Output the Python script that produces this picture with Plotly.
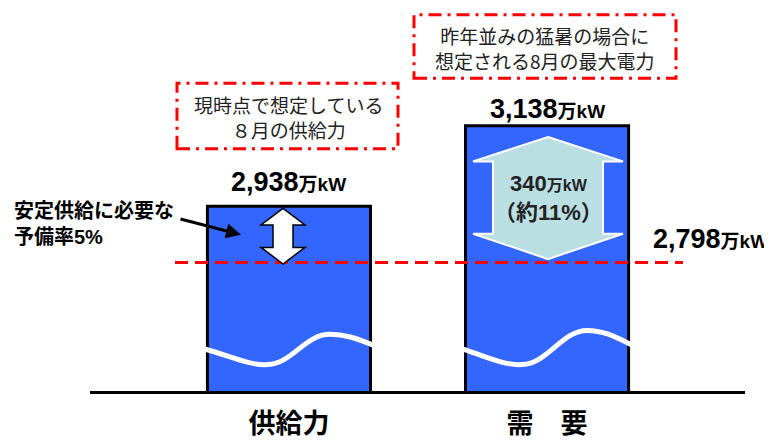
import plotly.graph_objects as go

# ---- data ----
categories = ["供給力", "需　要"]
values = [2938, 3138]            # 万kW
reserve_line = 2798               # 万kW
value_units = "万kW"
box_supply = ["現時点で想定している", "８月の供給力"]
box_demand = ["昨年並みの猛暑の場合に", "想定される8月の最大電力"]
reserve_note = ["安定供給に必要な", "予備率5%"]

# page has an 8px body margin; figure is sized to fill the rest of the window
OFF = 8
W, H = 772 - OFF, 441 - OFF
ML, MR, MT, MB = 90 - OFF, 27, 0, 41
PW, PH = W - ML - MR, H - MT - MB
FONT = "Liberation Sans, Arial, Noto Sans CJK JP"
BLUE = "#3366FF"
RED = "#FF0000"


def px(x):   # page pixel -> paper
    return (x - OFF - ML) / PW


def py(y):
    return (H - MB - (y - OFF)) / PH


def path(points, close=True):
    s = "M " + " L ".join(f"{px(a):.5f},{py(b):.5f}" for a, b in points)
    return s + (" Z" if close else "")


def curve(segs):
    out = []
    for cmd, pts in segs:
        out.append(cmd + " " + " ".join(f"{px(a):.5f},{py(b):.5f}" for a, b in pts))
    return " ".join(out)


fig = go.Figure()
fig.add_trace(go.Bar(
    x=categories, y=values, width=0.632,
    marker=dict(color=BLUE, line=dict(color="black", width=3)),
    hoverinfo="skip",
))

shapes = []
shapes.append(dict(type="line", xref="paper", yref="y", x0=px(175), x1=px(683),
                   y0=reserve_line, y1=reserve_line,
                   line=dict(color=RED, width=3, dash="13px,7px")))
for (x0, y0, x1, y1) in [(177, 85, 398, 152), (414, 15, 676, 80)]:
    shapes.append(dict(type="rect", xref="paper", yref="paper",
                       x0=px(x0), x1=px(x1), y0=py(y1), y1=py(y0),
                       line=dict(color=RED, width=3, dash="13px,6px,3px,6px")))
waves = [
    [("M", [(205, 357)]), ("C", [(235, 366), (250, 374), (268, 373)]),
     ("C", [(292, 372), (305, 342), (330, 342)]), ("C", [(348, 342), (360, 348), (373, 353)])],
    [("M", [(462, 357)]), ("C", [(490, 366), (505, 374), (522, 373)]),
     ("C", [(548, 372), (562, 338), (587, 338)]), ("C", [(605, 338), (618, 346), (632, 353)])],
]
for wv in waves:
    shapes.append(dict(type="path", xref="paper", yref="paper", path=curve(wv),
                       line=dict(color="white", width=5)))
cx = 283
small = [(cx, 213), (cx + 22, 230), (cx + 10, 230), (cx + 10, 253), (cx + 22, 253),
         (cx, 270), (cx - 22, 253), (cx - 10, 253), (cx - 10, 230), (cx - 22, 230)]
shapes.append(dict(type="path", xref="paper", yref="paper", path=path(small),
                   fillcolor="white", line=dict(color="black", width=1.5)))
bx = 548
big = [(bx, 140), (bx + 75, 165), (bx + 55, 165), (bx + 55, 239), (bx + 75, 239),
       (bx, 265), (bx - 75, 239), (bx - 55, 239), (bx - 55, 165), (bx - 75, 165)]
shapes.append(dict(type="path", xref="paper", yref="paper", path=path(big),
                   fillcolor="#BADFE2", line=dict(color="white", width=2)))

annotations = []


def val_text(v, small=19):
    return f"<b>{v:,}<span style='font-size:{small}px'>{value_units}</span></b>"


shifts = [24, 17]
for c, v, s in zip(categories, values, shifts):
    annotations.append(dict(x=c, y=v, xref="x", yref="y", yshift=s, text=val_text(v),
                            showarrow=False, xanchor="center", yanchor="middle",
                            font=dict(family=FONT, size=27, color="black")))
annotations.append(dict(x=px(770), y=reserve_line, xref="paper", yref="y", yshift=24,
                        text=val_text(reserve_line), showarrow=False,
                        xanchor="right", yanchor="middle",
                        font=dict(family=FONT, size=27, color="black")))
gap = values[1] - reserve_line
pct = round(gap / values[1] * 100)
annotations.append(dict(x=px(548), y=py(202), xref="paper", yref="paper",
                        text=f"<b>{gap}<span style='font-size:16px'>{value_units}</span></b><br><b>（約{pct}%）</b>",
                        showarrow=False, xanchor="center", yanchor="middle",
                        font=dict(family=FONT, size=22, color="#222222")))
for lines, (cxp, cyp) in [(box_supply, (288, 120)), (box_demand, (545, 49))]:
    annotations.append(dict(x=px(cxp), y=py(cyp), xref="paper", yref="paper",
                            text="<br>".join(lines), showarrow=False,
                            xanchor="center", yanchor="middle",
                            font=dict(family="Noto Sans CJK JP", size=19, color="#222222")))
annotations.append(dict(x=px(12), y=py(229), xref="paper", yref="paper",
                        text="<br>".join(f"<b>{t}</b>" for t in reserve_note),
                        showarrow=False, xanchor="left", yanchor="middle", align="left",
                        font=dict(family=FONT, size=20, color="black")))
annotations.append(dict(x=px(241), y=py(240), xref="paper", yref="paper", text="",
                        showarrow=True, ax=-62, ay=-16, arrowhead=2, arrowsize=1,
                        arrowwidth=3, arrowcolor="black"))

fig.update_layout(
    width=W, height=H, margin=dict(l=ML, r=MR, t=MT, b=MB),
    paper_bgcolor="white", plot_bgcolor="white", showlegend=False,
    shapes=shapes, annotations=annotations,
    xaxis=dict(type="category", range=[-0.771, 1.767], showline=True, linecolor="black",
               linewidth=3, ticks="", showgrid=False, zeroline=False,
               ticklabelstandoff=7,
               tickfont=dict(family="Noto Sans CJK JP", size=27, color="black", weight="bold")),
    yaxis=dict(range=[2479, 3430.6], visible=False, showgrid=False, zeroline=False),
)
fig.write_html("out.html")
